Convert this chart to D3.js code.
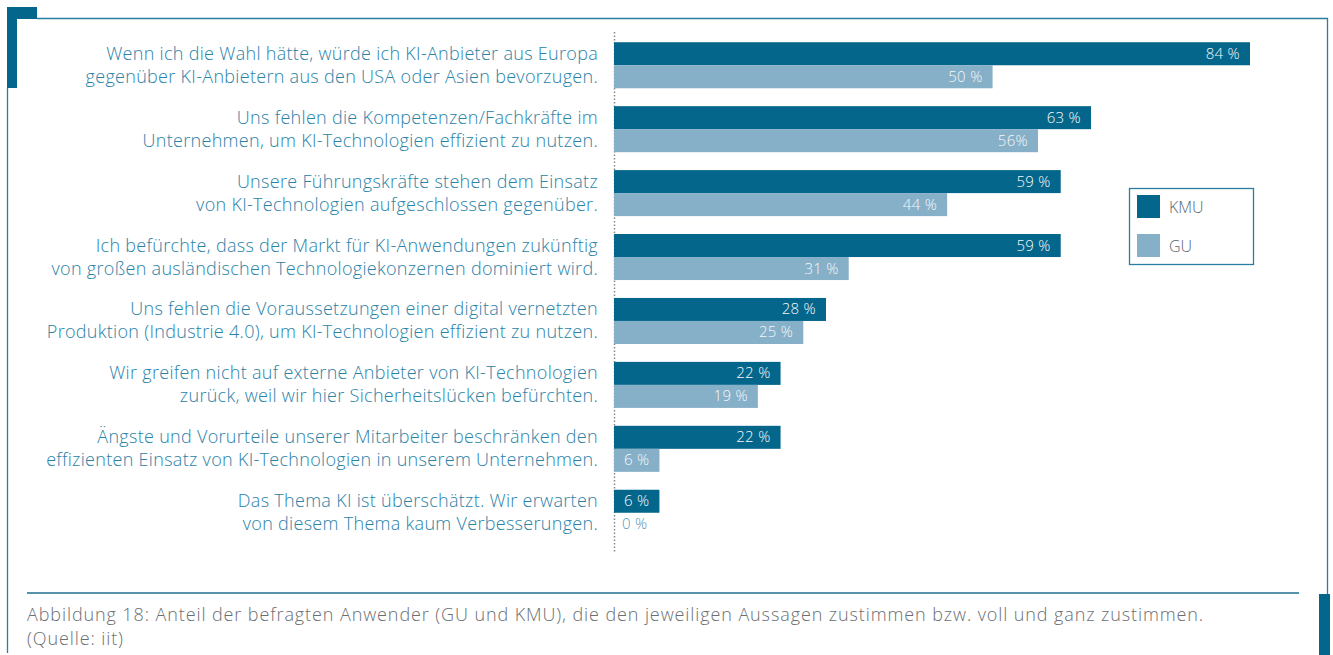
<!DOCTYPE html>
<html>
<head>
<meta charset="utf-8">
<script src="https://cdn.jsdelivr.net/npm/d3@7"></script>
<style>
  body { margin: 0; background: #fff; }
  svg { display: block; font-family: "Open Sans", "Liberation Sans", Arial, sans-serif; font-weight: 300; }
  .cat { fill: #2a82a8; font-size: 18px; letter-spacing: 0.3px; }
  .val { font-size: 15px; letter-spacing: 0.3px; }
  .legend-text { fill: #5a6570; font-size: 16px; }
  .caption { fill: #6a6f73; font-size: 18px; letter-spacing: 0.9px; }
</style>
</head>
<body>
<div id="chart"></div>
<script>

// statements, two lines each
var categories = [
    ["Wenn ich die Wahl hätte, würde ich KI-Anbieter aus Europa", "gegenüber KI-Anbietern aus den USA oder Asien bevorzugen."],
    ["Uns fehlen die Kompetenzen/Fachkräfte im", "Unternehmen, um KI-Technologien effizient zu nutzen."],
    ["Unsere Führungskräfte stehen dem Einsatz", "von KI-Technologien aufgeschlossen gegenüber."],
    ["Ich befürchte, dass der Markt für KI-Anwendungen zukünftig", "von großen ausländischen Technologiekonzernen dominiert wird."],
    ["Uns fehlen die Voraussetzungen einer digital vernetzten", "Produktion (Industrie 4.0), um KI-Technologien effizient zu nutzen."],
    ["Wir greifen nicht auf externe Anbieter von KI-Technologien", "zurück, weil wir hier Sicherheitslücken befürchten."],
    ["Ängste und Vorurteile unserer Mitarbeiter beschränken den", "effizienten Einsatz von KI-Technologien in unserem Unternehmen."],
    ["Das Thema KI ist überschätzt. Wir erwarten", "von diesem Thema kaum Verbesserungen."]
];

var series = ["KMU", "GU"];
var kmuValues = [84, 63, 59, 59, 28, 22, 22, 6];
var guValues = [50, 56, 44, 31, 25, 19, 6, 0];
var kmuLabels = ["84 %", "63 %", "59 %", "59 %", "28 %", "22 %", "22 %", "6 %"];
var guLabels = ["50 %", "56%", "44 %", "31 %", "25 %", "19 %", "6 %", "0 %"];

var captionLines = [
    "Abbildung 18: Anteil der befragten Anwender (GU und KMU), die den jeweiligen Aussagen zustimmen bzw. voll und ganz zustimmen.",
    "(Quelle: iit)"
];

var width = 1333, height = 655;
var dark = "#04668a", light = "#86afc8";

var svg = d3.select("#chart").append("svg")
    .attr("width", width)
    .attr("height", height);

// frame
var frame = svg.append("g");
frame.append("path")
    .attr("d", "M7.5,88 V653 M37,18.5 H1327.5 V595")
    .attr("fill", "none")
    .attr("stroke", "#2a7fa0")
    .attr("stroke-width", 1.3);
frame.append("rect").attr("x", 7).attr("y", 7).attr("width", 30).attr("height", 12).attr("fill", dark);
frame.append("rect").attr("x", 7).attr("y", 7).attr("width", 10).attr("height", 81).attr("fill", dark);
frame.append("rect").attr("x", 1319).attr("y", 594).attr("width", 11).attr("height", 61).attr("fill", dark);

// scales
var x = d3.scaleLinear()
    .domain([0, 84])
    .range([614, 1250]);

var y = d3.scaleBand()
    .domain(d3.range(categories.length))
    .range([32, 546])
    .paddingInner(0.28)
    .paddingOuter(0.16);

var y1 = d3.scaleBand()
    .domain(series)
    .range([0, y.bandwidth()]);

// dotted axis
svg.append("line")
    .attr("x1", x(0) + 0.5).attr("x2", x(0) + 0.5)
    .attr("y1", 32).attr("y2", 552)
    .attr("stroke", "#888")
    .attr("stroke-width", 1.5)
    .attr("stroke-dasharray", "1.5,2");

var rows = categories.map(function(c, i) {
    return {
        i: i,
        lines: c,
        values: [
            {key: "KMU", v: kmuValues[i], label: kmuLabels[i]},
            {key: "GU", v: guValues[i], label: guLabels[i]}
        ]
    };
});

var group = svg.selectAll(".group")
    .data(rows)
    .enter()
    .append("g")
    .attr("class", "group")
    .attr("transform", function(d) { return "translate(0," + y(d.i) + ")"; });

group.selectAll(".cat")
    .data(function(d) { return d.lines; })
    .enter()
    .append("text")
    .attr("class", "cat")
    .attr("text-anchor", "end")
    .attr("x", 598)
    .attr("y", function(d, j) { return y1(series[j]) + y1.bandwidth() / 2 + 6; })
    .text(function(d) { return d; });

group.selectAll(".bar")
    .data(function(d) { return d.values; })
    .enter()
    .append("rect")
    .attr("class", "bar")
    .attr("x", x(0))
    .attr("y", function(d) { return y1(d.key); })
    .attr("width", function(d) { return x(d.v) - x(0); })
    .attr("height", y1.bandwidth())
    .attr("fill", function(d) { return d.key == "KMU" ? dark : light; });

group.selectAll(".val")
    .data(function(d) { return d.values; })
    .enter()
    .append("text")
    .attr("class", "val")
    .attr("text-anchor", function(d) { return d.v > 0 ? "end" : "start"; })
    .attr("x", function(d) { return d.v > 0 ? x(d.v) - 10 : x(0) + 8; })
    .attr("y", function(d) { return y1(d.key) + y1.bandwidth() / 2 + 5; })
    .attr("fill", function(d) { return d.v > 0 ? "#f4f8fa" : "#4f97bb"; })
    .text(function(d) { return d.label; });

// legend
var legend = svg.append("g").attr("transform", "translate(1129.5,188.5)");
legend.append("rect")
    .attr("width", 124).attr("height", 76)
    .attr("fill", "#fff")
    .attr("stroke", "#2a7fa0")
    .attr("stroke-width", 1.3);
series.forEach(function(s, i) {
    legend.append("rect")
        .attr("x", 7.5).attr("y", 6.5 + i * 39)
        .attr("width", 23).attr("height", 23)
        .attr("fill", i == 0 ? dark : light);
    legend.append("text")
        .attr("class", "legend-text")
        .attr("x", 39.5).attr("y", 24 + i * 39)
        .text(s);
});

// caption
svg.append("line")
    .attr("x1", 27).attr("x2", 1299)
    .attr("y1", 593).attr("y2", 593)
    .attr("stroke", "#1f6f8f")
    .attr("stroke-width", 1.3);

svg.selectAll(".caption")
    .data(captionLines)
    .enter()
    .append("text")
    .attr("class", "caption")
    .attr("x", 27)
    .attr("y", function(d, i) { return 621 + i * 24; })
    .text(function(d) { return d; });

</script>
</body>
</html>
